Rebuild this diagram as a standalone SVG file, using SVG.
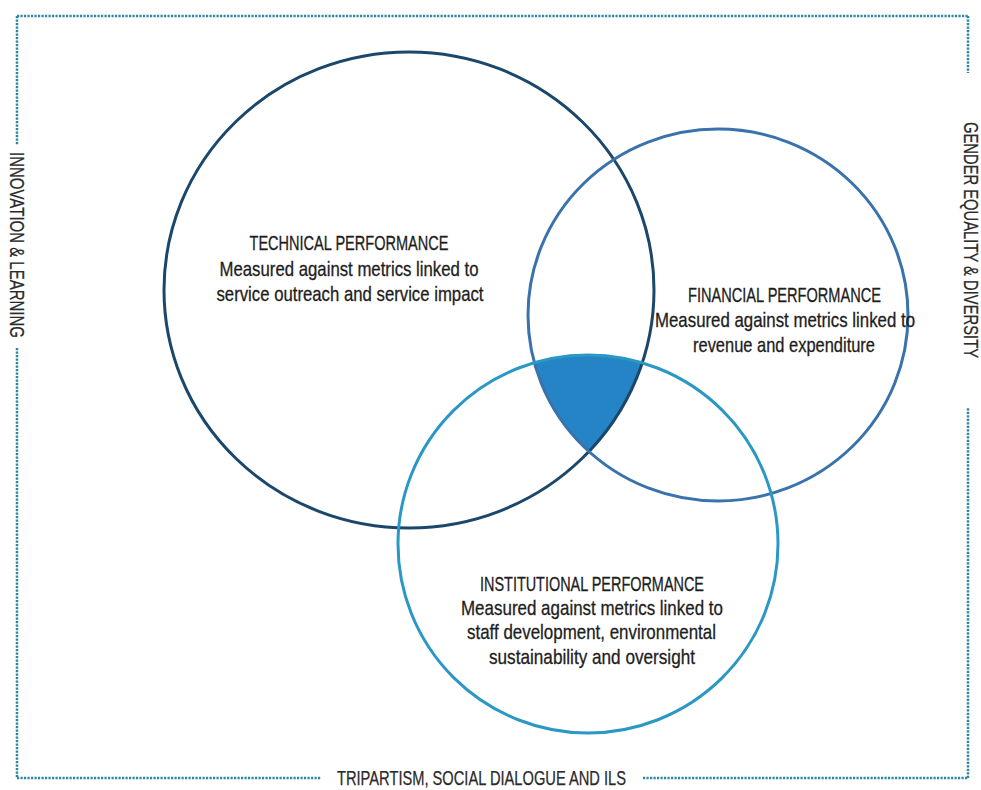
<svg xmlns="http://www.w3.org/2000/svg" width="981" height="790" viewBox="0 0 981 790">
  <style>
    .frame { fill: none; stroke: #2f86a0; stroke-width: 2.5; stroke-dasharray: 2.2 1.3; }
    .ring { fill: none; stroke-width: 3; }
    .label { font-family: "Liberation Sans Narrow", "Liberation Sans", "DejaVu Sans Condensed", sans-serif; font-size: 21px; fill: #1d1d1d; stroke: #1d1d1d; stroke-width: 0.3; text-anchor: middle; }
    .side { font-family: "Liberation Sans Narrow", "Liberation Sans", "DejaVu Sans Condensed", sans-serif; font-size: 20px; fill: #2a2a2a; stroke: #2a2a2a; stroke-width: 0.25; text-anchor: middle; }
  </style>
  <defs>
    <clipPath id="clipTech"><ellipse cx="409" cy="290" rx="245" ry="238"/></clipPath>
    <clipPath id="clipFin"><ellipse cx="718" cy="315" rx="190" ry="186"/></clipPath>
  </defs>

  <rect width="981" height="790" fill="#ffffff"/>

  <!-- dotted frame with gaps for the side themes -->
  <g id="frame">
    <path class="frame" d="M17 16 H968"/>
    <path class="frame" d="M17 16 V145"/>
    <path class="frame" d="M17 348 V778"/>
    <path class="frame" d="M17 778 H321"/>
    <path class="frame" d="M643 778 H968"/>
    <path class="frame" d="M968 778 V407"/>
    <path class="frame" d="M968 16 V73"/>
  </g>

  <g id="theme-innovation">
    <text class="side" transform="translate(17,245) rotate(90)" y="7" textLength="186" lengthAdjust="spacingAndGlyphs">INNOVATION &amp; LEARNING</text>
  </g>
  <g id="theme-gender">
    <text class="side" transform="translate(971,240) rotate(90)" y="7" textLength="236" lengthAdjust="spacingAndGlyphs">GENDER EQUALITY &amp; DIVERSITY</text>
  </g>
  <g id="theme-tripartism">
    <text class="side" x="481.5" y="785" textLength="289" lengthAdjust="spacingAndGlyphs">TRIPARTISM, SOCIAL DIALOGUE AND ILS</text>
  </g>

  <!-- shared core of all three performance areas -->
  <g id="core" clip-path="url(#clipTech)">
    <g clip-path="url(#clipFin)">
      <ellipse cx="588" cy="544" rx="190" ry="189" fill="#2584c6"/>
    </g>
  </g>

  <g id="technical">
    <ellipse class="ring" cx="409" cy="290" rx="245" ry="238" stroke="#1b476b"/>
    <text class="label" x="349" y="250" textLength="199" lengthAdjust="spacingAndGlyphs">TECHNICAL PERFORMANCE</text>
    <text class="label" x="349" y="276" textLength="259" lengthAdjust="spacingAndGlyphs">Measured against metrics linked to</text>
    <text class="label" x="350" y="301" textLength="267" lengthAdjust="spacingAndGlyphs">service outreach and service impact</text>
  </g>

  <g id="financial">
    <ellipse class="ring" cx="718" cy="315" rx="190" ry="186" stroke="#3a72ab"/>
    <text class="label" x="784.5" y="302" textLength="193" lengthAdjust="spacingAndGlyphs">FINANCIAL PERFORMANCE</text>
    <text class="label" x="785" y="327" textLength="260" lengthAdjust="spacingAndGlyphs">Measured against metrics linked to</text>
    <text class="label" x="784" y="352" textLength="182" lengthAdjust="spacingAndGlyphs">revenue and expenditure</text>
  </g>

  <g id="institutional">
    <ellipse class="ring" cx="588" cy="544" rx="190" ry="189" stroke="#2b97c5"/>
    <text class="label" x="592" y="591" textLength="224" lengthAdjust="spacingAndGlyphs">INSTITUTIONAL PERFORMANCE</text>
    <text class="label" x="592" y="615" textLength="262" lengthAdjust="spacingAndGlyphs">Measured against metrics linked to</text>
    <text class="label" x="591.5" y="639" textLength="249" lengthAdjust="spacingAndGlyphs">staff development, environmental</text>
    <text class="label" x="592" y="664" textLength="206" lengthAdjust="spacingAndGlyphs">sustainability and oversight</text>
  </g>
</svg>
